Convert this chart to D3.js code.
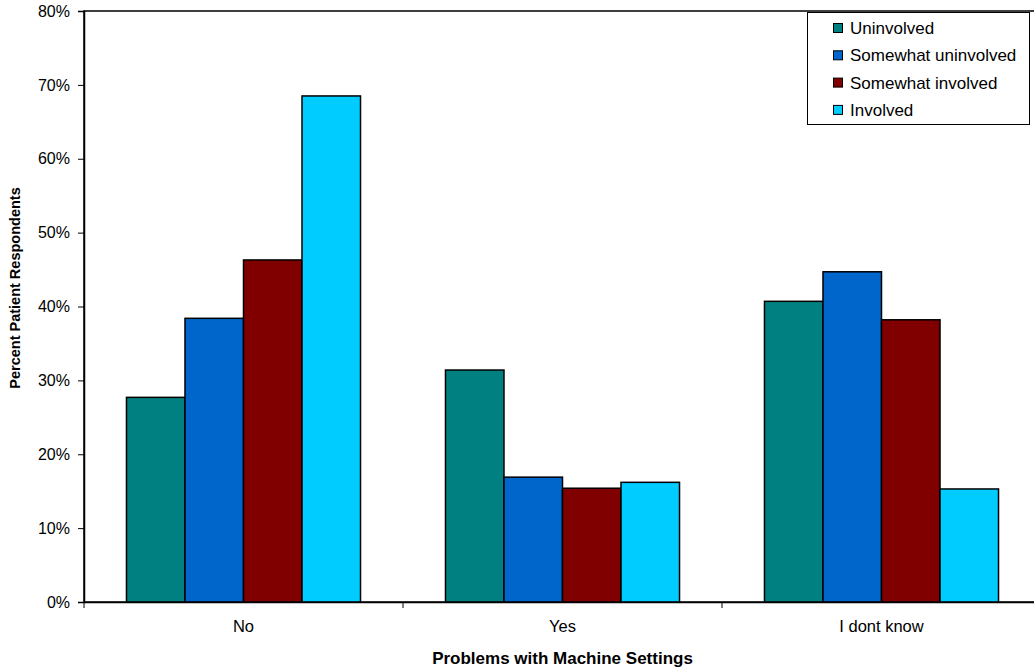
<!DOCTYPE html>
<html><head><meta charset="utf-8">
<script src="https://cdn.jsdelivr.net/npm/d3@7"></script>
<style>body{margin:0;background:#fff}svg{display:block}text{font-family:"Liberation Sans",Arial,sans-serif}</style>
</head><body><svg id="c" width="1034" height="670"></svg>
<script>
const categories = ["No", "Yes", "I dont know"];
const seriesNames = ["Uninvolved", "Somewhat uninvolved", "Somewhat involved", "Involved"];
const colors = ["#008080", "#0066CC", "#800000", "#00CCFF"];
const uninvolved = [27.7, 31.4, 40.7];
const somewhatUninvolved = [38.4, 16.9, 44.7];
const somewhatInvolved = [46.3, 15.4, 38.2];
const involved = [68.5, 16.2, 15.3];
const yTicks = [0, 10, 20, 30, 40, 50, 60, 70, 80];
const seriesValues = [uninvolved, somewhatUninvolved, somewhatInvolved, involved];

const svg = d3.select("#c");
const m = {l: 84, r: 1041, t: 11, b: 602};
const x0 = d3.scaleBand().domain(categories).range([m.l, m.r]).paddingInner(0).paddingOuter(0);
const x1 = d3.scaleBand().domain(seriesNames).range([0, x0.bandwidth()]).paddingInner(0).paddingOuter(0.726);
const y = d3.scaleLinear().domain([0, 80]).range([m.b, m.t]);

// plot border
svg.append("rect").attr("x", m.l).attr("y", m.t).attr("width", m.r - m.l).attr("height", m.b - m.t)
  .attr("fill", "none").attr("stroke", "#000").attr("stroke-width", 1.5);

// bars
const g = svg.append("g");
categories.forEach((c, ci) => {
  seriesNames.forEach((s, si) => {
    const v = seriesValues[si][ci];
    g.append("rect")
      .attr("x", x0(c) + x1(s)).attr("y", y(v))
      .attr("width", x1.bandwidth()).attr("height", y(0) - y(v))
      .attr("fill", colors[si]).attr("stroke", "#000").attr("stroke-width", 1.5);
  });
});

// y axis
const ya = svg.append("g").attr("transform", `translate(${m.l},0)`)
  .call(d3.axisLeft(y).tickValues(yTicks).tickFormat(d => d + "%").tickSize(6).tickPadding(8));
ya.select(".domain").attr("stroke", "#000").attr("stroke-width", 1.5);
ya.selectAll(".tick line").attr("stroke", "#000");
ya.selectAll("text").attr("font-size", 16).attr("fill", "#000").attr("font-family", "Liberation Sans, Arial, sans-serif");

// x axis
const xa = svg.append("g").attr("transform", `translate(0,${m.b})`)
  .call(d3.axisBottom(x0).tickSize(0).tickPadding(18));
xa.select(".domain").attr("stroke", "#000").attr("stroke-width", 1.5);
xa.selectAll("text").attr("font-size", 16.5).attr("fill", "#000").attr("font-family", "Liberation Sans, Arial, sans-serif");
// category separator ticks
const sepTicks = categories.map(c => x0(c));
svg.append("g").selectAll("line").data(sepTicks).join("line")
  .attr("x1", d => d).attr("x2", d => d).attr("y1", m.b).attr("y2", m.b + 6)
  .attr("stroke", "#000");

// axis titles
svg.append("text").attr("x", (m.l + m.r) / 2).attr("y", 664).attr("text-anchor", "middle")
  .attr("font-size", 17).attr("font-weight", "bold").text("Problems with Machine Settings");
svg.append("text").attr("transform", `translate(20,288) rotate(-90)`).attr("text-anchor", "middle")
  .attr("font-size", 14.5).attr("font-weight", "bold").text("Percent Patient Respondents");

// legend
const lg = svg.append("g");
lg.append("rect").attr("x", 807.5).attr("y", 12.5).attr("width", 222).attr("height", 112)
  .attr("fill", "#fff").attr("stroke", "#000").attr("stroke-width", 1);
seriesNames.forEach((s, i) => {
  const cy = 28 + i * 27.3;
  lg.append("rect").attr("x", 833.5).attr("y", cy - 4.5).attr("width", 9).attr("height", 9)
    .attr("fill", colors[i]).attr("stroke", "#000").attr("stroke-width", 1);
  lg.append("text").attr("x", 850).attr("y", cy + 6).attr("font-size", 17).text(s);
});
</script></body></html>
